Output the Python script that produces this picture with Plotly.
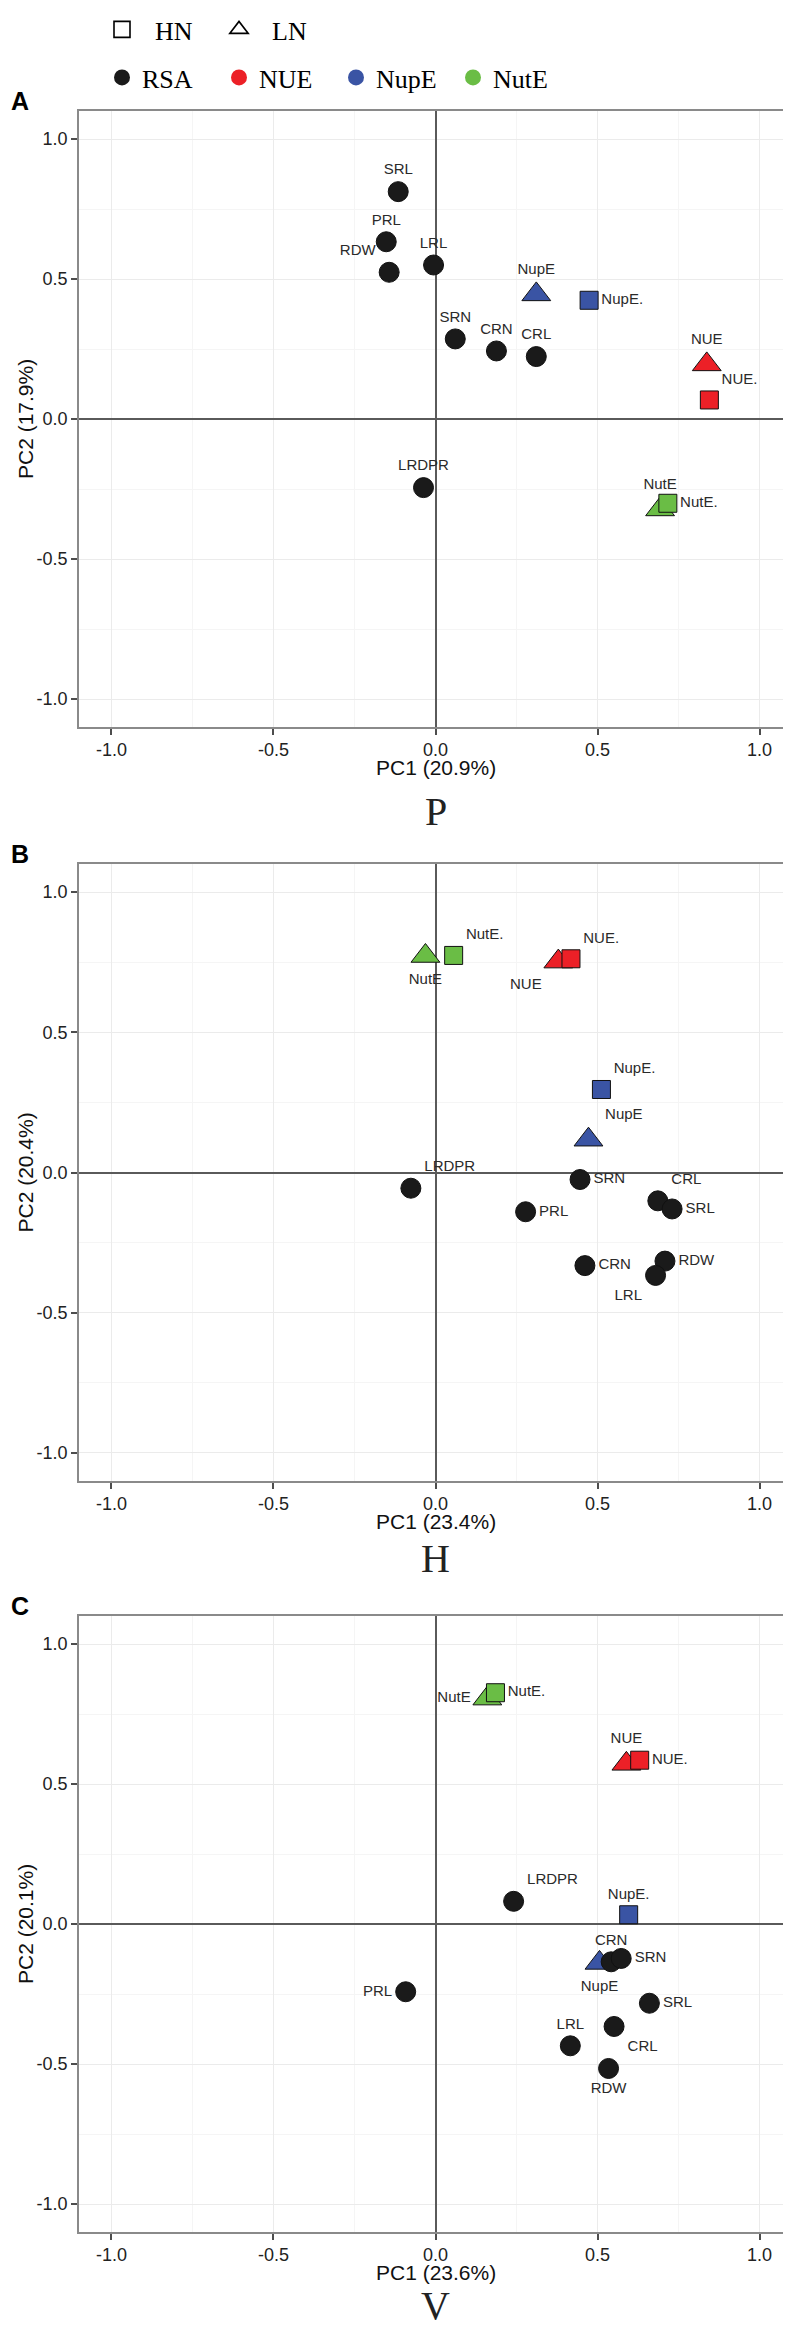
import plotly.graph_objects as go

# ---------------- data ----------------
# Panel A (P)
A_labels = ["SRL", "PRL", "RDW", "LRL", "SRN", "CRN", "CRL", "LRDPR",
            "NupE", "NupE.", "NUE", "NUE.", "NutE", "NutE."]
A_pc1 = [-0.115, -0.152, -0.143, -0.006, 0.061, 0.188, 0.311, -0.037,
         0.311, 0.474, 0.837, 0.845, 0.693, 0.717]
A_pc2 = [0.812, 0.633, 0.524, 0.550, 0.286, 0.243, 0.223, -0.245,
         0.445, 0.424, 0.195, 0.068, -0.323, -0.301]
A_group = ["RSA"] * 8 + ["NupE", "NupE", "NUE", "NUE", "NutE", "NutE"]
A_level = [""] * 8 + ["LN", "HN", "LN", "HN", "LN", "HN"]

# Panel B (H)
B_labels = ["NutE", "NutE.", "NUE", "NUE.", "NupE.", "NupE", "LRDPR", "SRN",
            "CRL", "SRL", "PRL", "CRN", "RDW", "LRL"]
B_pc1 = [-0.031, 0.056, 0.379, 0.418, 0.512, 0.472, -0.076, 0.446,
         0.686, 0.730, 0.278, 0.461, 0.708, 0.679]
B_pc2 = [0.772, 0.774, 0.752, 0.762, 0.296, 0.117, -0.056, -0.025,
         -0.101, -0.130, -0.140, -0.332, -0.316, -0.367]
B_group = ["NutE", "NutE", "NUE", "NUE", "NupE", "NupE"] + ["RSA"] * 8
B_level = ["LN", "HN", "LN", "HN", "HN", "LN"] + [""] * 8

# Panel C (V)
C_labels = ["NutE", "NutE.", "NUE", "NUE.", "LRDPR", "NupE.", "NupE", "CRN",
            "SRN", "PRL", "SRL", "LRL", "CRL", "RDW"]
C_pc1 = [0.160, 0.185, 0.589, 0.630, 0.241, 0.596, 0.506, 0.542,
         0.573, -0.092, 0.660, 0.416, 0.551, 0.534]
C_pc2 = [0.805, 0.826, 0.572, 0.585, 0.081, 0.033, -0.139, -0.135,
         -0.123, -0.242, -0.283, -0.435, -0.366, -0.516]
C_group = ["NutE", "NutE", "NUE", "NUE", "RSA", "NupE", "NupE"] + ["RSA"] * 7
C_level = ["LN", "HN", "LN", "HN", "", "HN", "LN"] + [""] * 7

pc1_pct = ["20.9%", "23.4%", "23.6%"]
pc2_pct = ["17.9%", "20.4%", "20.1%"]
panel_letters = ["A", "B", "C"]
panel_names = ["P", "H", "V"]

# ---------------- styles ----------------
A_textpos = ["top center", "top center", "top left", "top center", "top center",
             "top center", "top center", "top center", "top center", "middle right",
             "top center", "top right", "top center", "middle right"]
B_textpos = ["bottom center", "top right", "bottom left", "top right", "top right",
             "top right", "top right", "middle right", "top right", "middle right",
             "middle right", "middle right", "middle right", "bottom left"]
C_textpos = ["middle left", "middle right", "top center", "middle right", "top right",
             "top center", "bottom center", "top center", "middle right", "middle left",
             "middle right", "top center", "bottom right", "bottom center"]

colors = {"RSA": "#1A1A1A", "NUE": "#EC2027", "NupE": "#3A54A4", "NutE": "#6ABD45"}
W, H = 791, 2327
plot_left, plot_right = 71, 784
panel_tops = [103, 856, 1608]
panel_bottoms = [719, 1473, 2224]
name_bottoms = [828, 1575, 2322]

panels = [
    (A_labels, A_pc1, A_pc2, A_group, A_level, A_textpos),
    (B_labels, B_pc1, B_pc2, B_group, B_level, B_textpos),
    (C_labels, C_pc1, C_pc2, C_group, C_level, C_textpos),
]

fig = go.Figure()

label_font = dict(family="Liberation Sans, Arial, sans-serif", size=15, color="#2a2a2a")

kinds = [("LN", "triangle-up", 25), ("HN", "square", 18), ("", "circle", 20)]

for i, (labs, xs, ys, grp, lev, tpos) in enumerate(panels):
    ax = "" if i == 0 else str(i + 1)
    for lvl, sym, sz in kinds:
        idx = [k for k in range(len(labs)) if lev[k] == lvl]
        fig.add_trace(go.Scatter(
            x=[xs[k] for k in idx], y=[ys[k] for k in idx],
            text=[labs[k] for k in idx],
            textposition=[tpos[k] for k in idx],
            mode="markers+text",
            marker=dict(symbol=sym, size=sz,
                        color=[colors[grp[k]] for k in idx],
                        line=dict(color="#111111", width=1)),
            textfont=label_font,
            xaxis="x" + ax, yaxis="y" + ax,
            showlegend=False, hoverinfo="skip", cliponaxis=False,
        ))

# legend entries
NB = "\u00a0\u00a0"
fig.add_trace(go.Scatter(x=[None], y=[None], mode="markers", name=NB + "HN",
                         marker=dict(symbol="square-open", size=16, color="black",
                                     line=dict(width=1.6)),
                         legend="legend"))
fig.add_trace(go.Scatter(x=[None], y=[None], mode="markers", name=NB + "LN",
                         marker=dict(symbol="triangle-up-open", size=16, color="black",
                                     line=dict(width=1.6)),
                         legend="legend"))
for g in ["RSA", "NUE", "NupE", "NutE"]:
    fig.add_trace(go.Scatter(x=[None], y=[None], mode="markers", name=g,
                             marker=dict(symbol="circle", size=16, color=colors[g]),
                             legend="legend2"))

axis_common = dict(
    range=[-1.1, 1.1],
    tickvals=[-1.0, -0.5, 0.0, 0.5, 1.0],
    ticktext=["-1.0", "-0.5", "0.0", "0.5", "1.0"],
    ticks="outside", ticklen=6, tickwidth=1.5, tickcolor="#4d4d4d",
    tickfont=dict(family="Liberation Sans, Arial, sans-serif", size=18, color="#222222"),
    showgrid=True, gridcolor="#EBEBEB", gridwidth=1,
    minor=dict(dtick=0.25, tick0=0, showgrid=True, gridcolor="#F5F5F5", gridwidth=1),
    zeroline=True, zerolinecolor="#5A5A5A", zerolinewidth=1.6,
    showline=True, mirror=True, linecolor="#8A8A8A", linewidth=1.5,
    fixedrange=True, automargin=False,
)

legend_font = dict(family="Liberation Serif, Times New Roman, serif", size=26, color="black")
layout = dict(
    width=W, height=H,
    margin=dict(l=0, r=0, t=0, b=0, autoexpand=False),
    paper_bgcolor="white", plot_bgcolor="white",
    legend=dict(orientation="h", x=94 / W, y=1 + 2 / H, xanchor="left", yanchor="top",
                font=legend_font, entrywidth=72, itemsizing="trace",
                bgcolor="rgba(0,0,0,0)"),
    legend2=dict(orientation="h", x=94 / W, y=1 - 46 / H, xanchor="left", yanchor="top",
                 font=legend_font, entrywidth=72, itemsizing="trace",
                 bgcolor="rgba(0,0,0,0)"),
    showlegend=True,
)

annotations = []
for i in range(3):
    ax = "" if i == 0 else str(i + 1)
    top, bot = panel_tops[i], panel_bottoms[i]
    layout["xaxis" + ax] = dict(axis_common, domain=[plot_left / W, plot_right / W],
                                anchor="y" + ax)
    layout["yaxis" + ax] = dict(axis_common, domain=[1 - bot / H, 1 - top / H],
                                anchor="x" + ax)
    cx = (plot_left + plot_right) / 2 / W
    annotations.append(dict(text="PC1 (" + pc1_pct[i] + ")", x=cx, y=1 - (bot + 40) / H,
                            xref="paper", yref="paper", showarrow=False,
                            xanchor="center", yanchor="middle",
                            font=dict(family="Liberation Sans, Arial, sans-serif", size=21, color="#111111")))
    annotations.append(dict(text="PC2 (" + pc2_pct[i] + ")", x=17 / W, y=1 - (top + bot) / 2 / H,
                            xref="paper", yref="paper", showarrow=False, textangle=-90,
                            xanchor="center", yanchor="middle",
                            font=dict(family="Liberation Sans, Arial, sans-serif", size=21, color="#111111")))
    annotations.append(dict(text="<b>" + panel_letters[i] + "</b>", x=1 / W, y=1 - (top - 10) / H,
                            xref="paper", yref="paper", showarrow=False,
                            xanchor="left", yanchor="middle",
                            font=dict(family="Liberation Sans, Arial, sans-serif", size=25, color="black")))
    annotations.append(dict(text=panel_names[i], x=cx, y=1 - name_bottoms[i] / H,
                            xref="paper", yref="paper", showarrow=False,
                            xanchor="center", yanchor="bottom",
                            font=dict(family="Liberation Serif, Times New Roman, serif", size=40, color="#222222")))

layout["annotations"] = annotations
fig.update_layout(**layout)

fig.write_html("out.html")
